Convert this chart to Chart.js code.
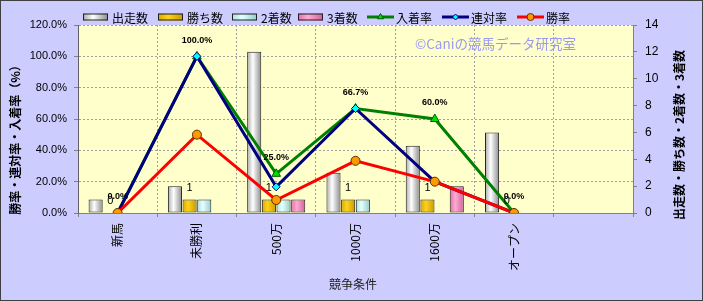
<!DOCTYPE html>
<html lang="ja">
<head>
<meta charset="utf-8">
<title>競争条件別成績</title>
<script src="https://cdn.jsdelivr.net/npm/chart.js@4.4.1/dist/chart.umd.min.js"></script>
<style>
  html, body { margin: 0; padding: 0; background: #ccccff; }
  canvas { display: block; }
</style>
</head>
<body>
<canvas id="chart" width="703" height="301"></canvas>
<script>
// --- データ ---
const categories = ['新馬', '未勝利', '500万', '1000万', '1600万', 'オープン', ''];
const starts  = [1, 2, 12, 3, 5, 6, null];     // 出走数
const wins    = [0, 1, 1, 1, 1, 0, null];      // 勝ち数
const seconds = [0, 1, 1, 1, 0, 0, null];      // 2着数
const thirds  = [0, 0, 1, 0, 2, 0, null];      // 3着数
const placeRate  = [0, 100, 25, 66.7, 60, 0, null];   // 入着率
const rentaiRate = [0, 100, 16.7, 66.7, 20, 0, null]; // 連対率
const winRate    = [0, 50, 8.3, 33.3, 20, 0, null];   // 勝率

const rateTicks  = [0, 20, 40, 60, 80, 100, 120];
const countTicks = [0, 2, 4, 6, 8, 10, 12, 14];

const FONT = '"Liberation Sans", "Noto Sans CJK JP", sans-serif';
const JFONT = '"Noto Sans CJK JP", "Liberation Sans", sans-serif';
const CAT_PCT = 0.74;
const BAR_PCT = 0.96;

// 棒の色（Excel 風の横グラデーション）
const fills = {
  starts:  [[0, '#a8a8a8'], [0.4, '#ffffff'], [1, '#8c8c8c']],
  wins:    [[0, '#d9a800'], [0.4, '#ffd21a'], [1, '#c89a00']],
  seconds: [[0, '#a8e0e0'], [0.4, '#e6ffff'], [1, '#90cccc']],
  thirds:  [[0, '#e070a8'], [0.4, '#ffaad4'], [1, '#d0609a']]
};

function makeGrad(ctx, x0, x1, stops) {
  const g = ctx.createLinearGradient(x0, 0, x1, 0);
  stops.forEach(([o, c]) => g.addColorStop(o, c));
  return g;
}

function barFill(stops, slot) {
  return function (c) {
    const chart = c.chart;
    const xs = chart.scales.x;
    if (c.type !== 'data' || !xs || !chart.chartArea) return stops[1][1];
    const catW = xs.width / categories.length;
    const group = catW * CAT_PCT;
    const slotW = group / 4;
    const cx = xs.getPixelForValue(c.dataIndex) - group / 2 + slotW * (slot + 0.5);
    const half = slotW * BAR_PCT / 2;
    return makeGrad(chart.ctx, cx - half, cx + half, stops);
  };
}

function barSet(label, data, stops, slot) {
  return {
    type: 'bar', label, data, yAxisID: 'y1', order: 3 + slot,
    backgroundColor: barFill(stops, slot),
    borderColor: '#202020', borderWidth: 1, borderSkipped: false,
    categoryPercentage: CAT_PCT, barPercentage: BAR_PCT
  };
}

function lineSet(label, data, color, style, fill, edge, radius, order) {
  return {
    type: 'line', label, data, yAxisID: 'y', order,
    borderColor: color, borderWidth: 3, tension: 0,
    pointStyle: style, pointRadius: radius, pointHoverRadius: radius,
    pointBackgroundColor: fill, pointBorderColor: edge, pointBorderWidth: 1
  };
}

// 凡例の定義
const legendItems = [
  { text: '出走数', x: 83,  bar: fills.starts },
  { text: '勝ち数', x: 158, bar: fills.wins },
  { text: '2着数',  x: 232, bar: fills.seconds },
  { text: '3着数',  x: 298, bar: fills.thirds },
  { text: '入着率', x: 367, line: '#008000', style: 'triangle', fill: '#00dd00', edge: '#006000', r: 3.5 },
  { text: '連対率', x: 442, line: '#000080', style: 'rectRot',  fill: '#00ffff', edge: '#000080', r: 3 },
  { text: '勝率',   x: 517, line: '#ff0000', style: 'circle',   fill: '#ff9900', edge: '#603000', r: 3.5 }
];

const decor = {
  id: 'decor',
  beforeDraw(chart) {
    const { ctx, chartArea: a } = chart;
    ctx.save();
    ctx.fillStyle = '#ccccff';
    ctx.fillRect(0, 0, chart.width, chart.height);
    ctx.fillStyle = '#ffffcc';
    ctx.fillRect(a.left, a.top, a.right - a.left, a.bottom - a.top);
    ctx.restore();
  },
  beforeDatasetsDraw(chart) {
    const ctx = chart.ctx;
    ctx.save();
    ctx.fillStyle = '#9a9af0';
    ctx.font = '13.5px ' + JFONT;
    ctx.textBaseline = 'middle';
    ctx.textAlign = 'left';
    ctx.fillText('©Caniの競馬データ研究室', 415, 44);
    ctx.restore();
  },
  afterDatasetsDraw(chart) {
    const ctx = chart.ctx;
    ctx.save();
    ctx.fillStyle = '#000';
    ctx.textAlign = 'center';
    ctx.textBaseline = 'middle';
    // 入着率ラベル
    ctx.font = 'bold 9px ' + FONT;
    chart.getDatasetMeta(4).data.forEach((pt, i) => {
      if (placeRate[i] == null) return;
      ctx.fillText(placeRate[i].toFixed(1) + '%', pt.x, pt.y - 16);
    });
    // 勝ち数ラベル
    ctx.font = '11px ' + FONT;
    chart.getDatasetMeta(1).data.forEach((bar, i) => {
      if (wins[i] == null) return;
      ctx.fillText(String(wins[i]), bar.x, bar.y - 12);
    });
    ctx.restore();
  },
  afterDraw(chart) {
    const ctx = chart.ctx;
    ctx.save();
    // 凡例
    ctx.font = '12px ' + JFONT;
    ctx.textBaseline = 'middle';
    ctx.textAlign = 'left';
    const ly = 17;
    legendItems.forEach(it => {
      if (it.bar) {
        ctx.fillStyle = makeGrad(ctx, it.x, it.x + 25, it.bar);
        ctx.fillRect(it.x, ly - 3.5, 25, 7);
        ctx.strokeStyle = '#202020';
        ctx.lineWidth = 1;
        ctx.strokeRect(it.x + 0.5, ly - 3, 24, 6);
      } else {
        ctx.strokeStyle = it.line;
        ctx.lineWidth = 3;
        ctx.beginPath();
        ctx.moveTo(it.x, ly);
        ctx.lineTo(it.x + 27, ly);
        ctx.stroke();
        ctx.fillStyle = it.fill;
        ctx.strokeStyle = it.edge;
        ctx.lineWidth = 1;
        Chart.helpers.drawPoint(ctx, { pointStyle: it.style, radius: it.r, rotation: 0, borderWidth: 1 }, it.x + 13.5, ly);
      }
      ctx.fillStyle = '#000';
      ctx.fillText(it.text, it.x + 29, ly + 1);
    });

    // 軸タイトル
    ctx.fillStyle = '#000';
    ctx.textAlign = 'center';
    ctx.font = 'bold 12px ' + JFONT;
    ctx.save();
    ctx.translate(15, 137);
    ctx.rotate(-Math.PI / 2);
    ctx.fillText('勝率・連対率・入着率（%）', 0, 0);
    ctx.restore();
    ctx.save();
    ctx.translate(679, 135);
    ctx.rotate(-Math.PI / 2);
    ctx.fillText('出走数・勝ち数・2着数・3着数', 0, 0);
    ctx.restore();
    ctx.font = '12px ' + JFONT;
    ctx.fillStyle = '#222';
    ctx.fillText('競争条件', 353, 284);

    // 外枠
    ctx.strokeStyle = '#404040';
    ctx.lineWidth = 1;
    ctx.strokeRect(0.5, 0.5, chart.width - 1, chart.height - 1);
    ctx.restore();
  }
};

new Chart(document.getElementById('chart'), {
  data: {
    labels: categories,
    datasets: [
      barSet('出走数', starts, fills.starts, 0),
      barSet('勝ち数', wins, fills.wins, 1),
      barSet('2着数', seconds, fills.seconds, 2),
      barSet('3着数', thirds, fills.thirds, 3),
      lineSet('入着率', placeRate, '#008000', 'triangle', '#00dd00', '#006000', 5, 2),
      lineSet('連対率', rentaiRate, '#000080', 'rectRot', '#00ffff', '#000080', 4, 1),
      lineSet('勝率', winRate, '#ff0000', 'circle', '#ff9900', '#603000', 4.5, 0)
    ]
  },
  options: {
    responsive: false,
    animation: false,
    layout: { padding: { top: 25, left: 0, right: 0, bottom: 0 } },
    plugins: {
      legend: { display: false },
      tooltip: { enabled: false }
    },
    scales: {
      x: {
        type: 'category',
        offset: true,
        grid: { offset: true, color: '#a0a0a0', tickColor: '#808080', tickLength: 4 },
        border: { color: '#808080', dash: [2, 2] },
        ticks: {
          color: '#000', font: { size: 12, family: JFONT },
          minRotation: 90, maxRotation: 90, autoSkip: false, padding: 6
        },
        afterFit(s) { s.height = 88; }
      },
      y: {
        position: 'left',
        min: 0, max: 120,
        afterBuildTicks(s) { s.ticks = rateTicks.map(v => ({ value: v })); },
        grid: { color: '#a0a0a0', tickColor: '#808080', tickLength: 4 },
        border: { color: '#606060', dash: [2, 2] },
        ticks: {
          color: '#000', font: { size: 11, family: FONT }, padding: 7,
          callback: v => v.toFixed(1) + '%'
        },
        afterFit(s) { s.width = 78; }
      },
      y1: {
        position: 'right',
        min: 0, max: 14,
        afterBuildTicks(s) { s.ticks = countTicks.map(v => ({ value: v })); },
        grid: { drawOnChartArea: false, tickColor: '#808080', tickLength: 4 },
        border: { color: '#808080' },
        ticks: { color: '#000', font: { size: 12, family: FONT }, padding: 8 },
        afterFit(s) { s.width = 70; }
      }
    }
  },
  plugins: [decor]
});
</script>
</body>
</html>
